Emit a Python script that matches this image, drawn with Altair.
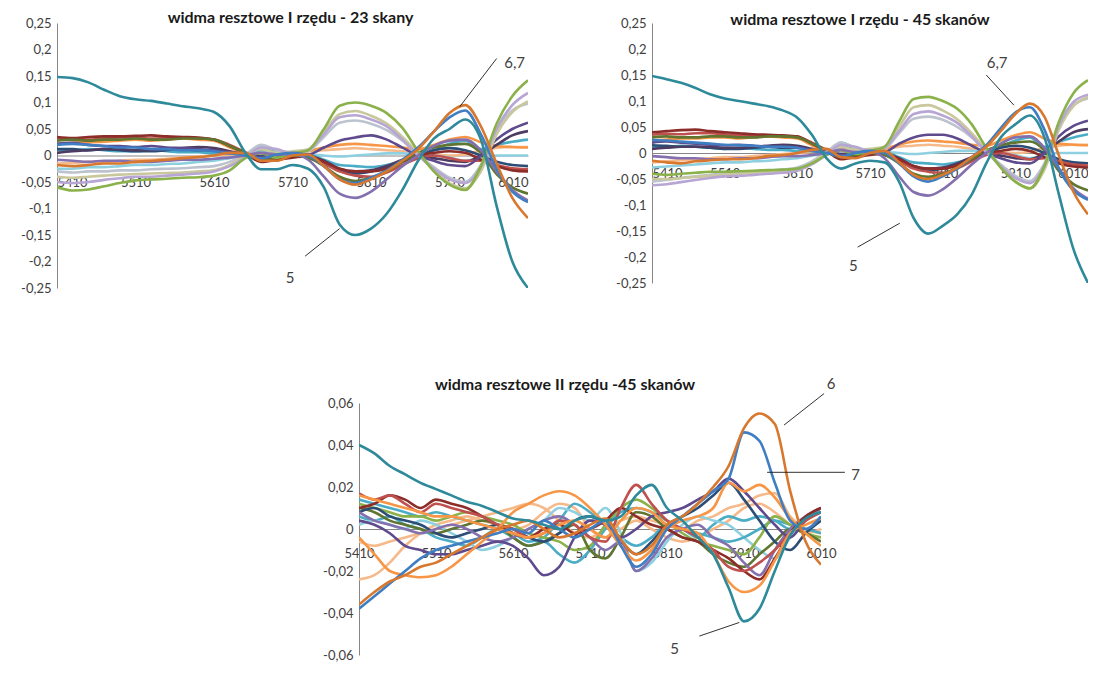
import altair as alt
import pandas as pd

# wavenumber grid (x values of every series)
X = [5410, 5430, 5450, 5470, 5490, 5510, 5530, 5550, 5570, 5590, 5610,
     5630, 5650, 5670, 5690, 5710, 5730, 5750,
     5770, 5790, 5810, 5830, 5850, 5870,
     5890, 5910, 5930, 5950, 5970, 5990, 6010]
X_TICKS = [5410, 5510, 5610, 5710, 5810, 5910, 6010]
Y_TICKS_1 = [-0.25, -0.2, -0.15, -0.1, -0.05, 0, 0.05, 0.1, 0.15, 0.2, 0.25]
Y_TICKS_3 = [-0.06, -0.04, -0.02, 0, 0.02, 0.04, 0.06]

TITLE_1 = "widma resztowe I rzędu - 23 skany"
TITLE_2 = "widma resztowe I rzędu - 45 skanów"
TITLE_3 = "widma resztowe II rzędu -45 skanów"

# ---------------- panel 1 : I order residuals, 23 scans ----------------
p1_peach = [-0.015,-0.014,-0.012,-0.012,-0.010,-0.008,-0.008,-0.006,-0.004,-0.002,0.000, 0.002,0.004,0.010,0.008,0.006,0.008,0.010, 0.012,0.014,0.012,0.010,0.008,0.005, 0.002,0.000,0.002,0.010,0.014,0.016,0.016]
p1_laqua = [-0.025,-0.025,-0.022,-0.022,-0.020,-0.018,-0.018,-0.016,-0.015,-0.012,-0.010, -0.005,0.000,0.018,0.010,0.005,0.002,0.000, -0.002,0.000,0.002,0.004,0.004,0.002, 0.000,-0.004,-0.010,-0.004,0.000,0.000,0.000]
p1_aqua = [0.010,0.010,0.012,0.010,0.008,0.008,0.010,0.008,0.006,0.006,0.004, 0.004,0.002,0.010,0.008,0.004,0.002,-0.008, -0.018,-0.020,-0.022,-0.018,-0.010,0.000, 0.010,0.022,0.028,0.012,0.020,0.026,0.030]
p1_orange = [0.022,0.024,0.025,0.026,0.028,0.030,0.028,0.030,0.032,0.030,0.028, 0.015,0.005,-0.005,0.000,0.002,0.008,0.015, 0.020,0.022,0.020,0.018,0.015,0.012, 0.020,0.030,0.035,0.025,0.018,0.016,0.015]
p1_dblue = [0.012,0.012,0.010,0.012,0.010,0.008,0.008,0.010,0.012,0.010,0.010, 0.006,0.002,-0.002,0.000,0.000,-0.004,-0.015, -0.028,-0.034,-0.030,-0.022,-0.010,0.000, 0.010,0.014,0.010,0.000,-0.012,-0.018,-0.020]
p1_indigo = [0.005,0.008,0.010,0.012,0.012,0.010,0.010,0.012,0.014,0.016,0.014, 0.008,0.002,-0.002,0.000,0.002,0.000,-0.010, -0.025,-0.030,-0.028,-0.020,-0.008,0.000, -0.005,-0.010,-0.012,0.000,0.020,0.038,0.046]
p1_red = [0.030,0.032,0.030,0.032,0.034,0.034,0.032,0.033,0.034,0.032,0.030, 0.020,0.006,-0.010,-0.005,0.000,-0.002,-0.015, -0.030,-0.038,-0.040,-0.032,-0.018,-0.005, 0.000,-0.005,-0.010,-0.010,-0.018,-0.024,-0.026]
p1_dred = [0.035,0.033,0.035,0.036,0.036,0.037,0.038,0.036,0.035,0.034,0.030, 0.018,0.004,-0.012,-0.008,-0.004,-0.002,-0.012, -0.025,-0.030,-0.030,-0.025,-0.012,0.000, 0.005,0.008,0.005,-0.008,-0.020,-0.028,-0.030]
p1_olive = [0.028,0.030,0.028,0.030,0.030,0.032,0.030,0.030,0.032,0.032,0.030, 0.018,0.005,-0.008,-0.004,0.000,-0.004,-0.020, -0.040,-0.048,-0.042,-0.030,-0.012,0.005, 0.015,0.020,0.022,0.005,-0.035,-0.060,-0.072]
p1_dpurple = [0.022,0.024,0.020,0.018,0.018,0.016,0.018,0.015,0.014,0.012,0.010, 0.006,0.002,-0.004,0.000,0.004,0.002,0.015, 0.028,0.034,0.038,0.030,0.015,0.000, -0.010,-0.018,-0.020,0.000,0.030,0.050,0.062]
p1_gray = [-0.030,-0.032,-0.030,-0.030,-0.028,-0.028,-0.026,-0.025,-0.024,-0.022,-0.020, -0.012,0.002,0.020,0.010,0.004,0.008,0.035, 0.062,0.066,0.060,0.048,0.028,0.002, -0.022,-0.042,-0.050,-0.018,0.045,0.085,0.098]
p1_khaki = [-0.040,-0.042,-0.040,-0.038,-0.036,-0.035,-0.034,-0.033,-0.032,-0.030,-0.028, -0.018,0.000,0.012,0.005,0.008,0.012,0.045, 0.078,0.084,0.075,0.060,0.035,0.004, -0.028,-0.052,-0.062,-0.030,0.040,0.082,0.102]
p1_lav = [-0.050,-0.052,-0.050,-0.046,-0.043,-0.040,-0.040,-0.038,-0.036,-0.034,-0.030, -0.020,-0.004,0.015,0.012,0.004,0.010,0.040, 0.072,0.076,0.068,0.055,0.030,0.000, -0.025,-0.045,-0.052,-0.022,0.050,0.095,0.118]
p1_green = [-0.060,-0.066,-0.064,-0.058,-0.052,-0.047,-0.045,-0.044,-0.042,-0.041,-0.038, -0.028,-0.005,0.004,-0.004,0.004,0.010,0.050, 0.094,0.100,0.094,0.080,0.052,0.008, -0.030,-0.055,-0.065,-0.020,0.060,0.112,0.142]
p1_purple = [-0.008,-0.010,-0.012,-0.010,-0.010,-0.012,-0.012,-0.010,-0.008,-0.008,-0.006, -0.004,0.000,0.005,0.002,0.002,-0.008,-0.040, -0.072,-0.080,-0.068,-0.045,-0.020,0.000, 0.018,0.028,0.030,0.010,-0.030,-0.065,-0.085]
p1_blue7 = [0.020,0.022,0.020,0.018,0.015,0.015,0.012,0.012,0.010,0.010,0.008, 0.004,0.000,-0.005,0.002,0.005,0.000,-0.020, -0.045,-0.052,-0.042,-0.028,-0.008,0.015, 0.045,0.072,0.085,0.040,-0.025,-0.068,-0.088]
p1_orange6 = [-0.018,-0.020,-0.018,-0.015,-0.015,-0.012,-0.010,-0.008,-0.005,-0.003,0.000, 0.005,0.005,-0.010,-0.010,0.000,0.002,-0.020, -0.045,-0.055,-0.045,-0.030,-0.010,0.012, 0.045,0.080,0.095,0.055,-0.015,-0.080,-0.118]
p1_teal5 = [0.148,0.146,0.138,0.124,0.112,0.106,0.103,0.098,0.093,0.089,0.082, 0.055,0.005,-0.026,-0.026,-0.018,-0.025,-0.060, -0.130,-0.150,-0.138,-0.110,-0.065,-0.010, 0.032,0.050,0.068,0.030,-0.095,-0.200,-0.250]

# ---------------- panel 2 : I order residuals, 45 scans ----------------
p2_peach = [-0.018,-0.016,-0.014,-0.012,-0.010,-0.008,-0.008,-0.006,-0.004,-0.002,0.000, 0.002,0.004,0.010,0.008,0.006,0.008,0.012, 0.014,0.016,0.014,0.012,0.008,0.005, 0.002,0.000,0.002,0.010,0.014,0.016,0.016]
p2_laqua = [-0.028,-0.026,-0.024,-0.022,-0.020,-0.018,-0.018,-0.016,-0.015,-0.012,-0.010, -0.005,0.000,0.020,0.010,0.005,0.002,0.000, -0.002,0.000,0.002,0.004,0.004,0.002, 0.000,-0.004,-0.010,-0.004,0.000,0.000,0.000]
p2_aqua = [0.012,0.012,0.014,0.012,0.010,0.008,0.010,0.008,0.006,0.006,0.004, 0.004,0.002,0.012,0.008,0.004,0.002,-0.008, -0.018,-0.020,-0.022,-0.018,-0.010,0.000, 0.012,0.024,0.030,0.012,0.022,0.030,0.036]
p2_orange = [0.025,0.026,0.028,0.028,0.030,0.030,0.028,0.030,0.032,0.030,0.028, 0.015,0.005,-0.004,0.000,0.002,0.008,0.016, 0.022,0.024,0.022,0.020,0.016,0.014, 0.024,0.034,0.040,0.028,0.018,0.016,0.015]
p2_dblue = [0.015,0.014,0.012,0.012,0.010,0.008,0.008,0.010,0.012,0.010,0.010, 0.006,0.002,-0.002,0.000,0.000,-0.004,-0.015, -0.028,-0.034,-0.030,-0.022,-0.010,0.000, 0.010,0.014,0.010,0.000,-0.012,-0.018,-0.020]
p2_indigo = [0.008,0.010,0.012,0.012,0.012,0.010,0.010,0.012,0.014,0.016,0.014, 0.008,0.002,-0.002,0.000,0.002,0.000,-0.010, -0.025,-0.030,-0.028,-0.020,-0.008,0.000, -0.005,-0.010,-0.012,0.000,0.022,0.040,0.046]
p2_red = [0.035,0.037,0.036,0.038,0.038,0.036,0.034,0.034,0.034,0.032,0.030, 0.020,0.006,-0.010,-0.005,0.000,-0.002,-0.015, -0.030,-0.036,-0.038,-0.030,-0.016,-0.004, 0.000,-0.006,-0.012,-0.010,-0.016,-0.022,-0.024]
p2_dred = [0.040,0.042,0.044,0.045,0.042,0.040,0.038,0.036,0.035,0.034,0.032, 0.018,0.004,-0.012,-0.008,-0.004,-0.002,-0.012, -0.025,-0.030,-0.030,-0.024,-0.012,0.000, 0.004,0.008,0.004,-0.008,-0.020,-0.026,-0.028]
p2_olive = [0.030,0.032,0.030,0.030,0.032,0.032,0.030,0.030,0.032,0.032,0.030, 0.018,0.005,-0.008,-0.004,0.000,-0.004,-0.020, -0.040,-0.046,-0.040,-0.028,-0.012,0.005, 0.015,0.020,0.022,0.005,-0.035,-0.060,-0.072]
p2_dpurple = [0.020,0.022,0.020,0.018,0.016,0.015,0.016,0.014,0.012,0.012,0.010, 0.006,0.002,-0.004,0.000,0.004,0.002,0.018, 0.030,0.035,0.035,0.028,0.014,0.000, -0.010,-0.018,-0.020,0.000,0.032,0.052,0.062]
p2_gray = [-0.055,-0.052,-0.048,-0.045,-0.042,-0.040,-0.038,-0.036,-0.034,-0.032,-0.028, -0.016,0.002,0.020,0.010,0.004,0.008,0.038, 0.066,0.070,0.064,0.050,0.030,0.002, -0.022,-0.044,-0.054,-0.020,0.048,0.092,0.105]
p2_khaki = [-0.050,-0.050,-0.048,-0.046,-0.044,-0.042,-0.040,-0.038,-0.037,-0.035,-0.032, -0.020,0.000,0.012,0.006,0.008,0.012,0.050, 0.088,0.092,0.082,0.065,0.038,0.005, -0.028,-0.055,-0.068,-0.032,0.045,0.090,0.108]
p2_lav = [-0.062,-0.060,-0.056,-0.052,-0.048,-0.045,-0.044,-0.042,-0.040,-0.038,-0.034, -0.022,-0.004,0.016,0.012,0.004,0.010,0.042, 0.075,0.080,0.072,0.058,0.032,0.002, -0.025,-0.048,-0.058,-0.025,0.052,0.098,0.112]
p2_green = [-0.040,-0.042,-0.040,-0.038,-0.036,-0.036,-0.035,-0.034,-0.033,-0.032,-0.030, -0.020,-0.004,0.005,-0.002,0.004,0.012,0.060, 0.104,0.108,0.100,0.085,0.055,0.010, -0.028,-0.055,-0.068,-0.025,0.060,0.115,0.140]
p2_purple = [-0.006,-0.008,-0.010,-0.010,-0.012,-0.012,-0.010,-0.010,-0.008,-0.006,-0.006, -0.004,0.000,0.006,0.002,0.002,-0.010,-0.045, -0.075,-0.082,-0.070,-0.048,-0.022,0.000, 0.018,0.030,0.032,0.010,-0.030,-0.068,-0.088]
p2_blue7 = [0.025,0.024,0.022,0.020,0.018,0.016,0.015,0.014,0.012,0.012,0.010, 0.004,0.000,-0.006,0.000,0.004,0.000,-0.020, -0.045,-0.055,-0.045,-0.030,-0.008,0.015, 0.048,0.078,0.088,0.045,-0.030,-0.072,-0.090]
p2_orange6 = [-0.015,-0.018,-0.020,-0.016,-0.014,-0.012,-0.012,-0.010,-0.006,-0.004,0.000, 0.006,0.008,-0.008,-0.010,0.000,0.004,-0.018, -0.042,-0.050,-0.042,-0.028,-0.008,0.012, 0.042,0.075,0.095,0.070,-0.005,-0.075,-0.118]
p2_teal5 = [0.148,0.142,0.135,0.125,0.113,0.105,0.100,0.095,0.090,0.082,0.068, 0.035,-0.010,-0.030,-0.020,-0.015,-0.018,-0.055, -0.125,-0.155,-0.140,-0.118,-0.080,-0.020, 0.030,0.055,0.072,0.030,-0.080,-0.185,-0.250]

# ---------------- panel 3 : II order residuals, 45 scans ----------------
p3_peach = [-0.006,-0.008,-0.006,-0.004,-0.002,0.000,0.002,0.004,0.006,0.008,0.010, 0.012,0.010,0.004,-0.002,-0.004,0.000,0.004, 0.006,0.004,0.002,0.000,0.004,0.006, 0.010,0.012,0.016,0.017,0.006,0.000,-0.002]
p3_lblue = [-0.024,-0.022,-0.016,-0.008,-0.002,0.002,0.004,0.006,0.004,0.002,0.000, 0.002,0.008,0.012,0.010,0.000,-0.004,0.000, 0.004,0.000,-0.004,-0.006,-0.004,0.000, 0.004,0.010,0.012,0.008,0.002,-0.002,0.000]
p3_aqua = [0.006,0.004,0.006,0.002,0.000,-0.004,-0.006,-0.008,-0.004,0.000,-0.002, -0.006,-0.004,0.004,0.012,0.008,0.002,-0.004, -0.008,-0.004,0.002,0.000,-0.004,0.002, 0.006,0.004,0.006,0.004,0.000,0.004,0.010]
p3_blue = [0.002,0.004,0.002,0.000,0.004,0.002,-0.002,-0.006,-0.010,-0.008,-0.004, 0.000,0.004,0.010,0.008,0.004,0.010,-0.002, -0.020,-0.016,-0.006,0.002,0.006,0.004, 0.002,-0.004,-0.010,-0.014,-0.004,0.004,0.008]
p3_lgreen = [0.014,0.012,0.010,0.008,0.006,0.008,0.006,0.004,0.002,0.000,-0.004, -0.008,-0.006,-0.012,-0.016,-0.010,0.000,0.008, 0.010,0.008,0.004,0.000,-0.002,-0.004, -0.006,-0.004,0.000,0.004,0.002,0.000,-0.002]
p3_green = [0.012,0.010,0.008,0.006,0.006,0.004,0.006,0.008,0.006,0.004,0.002, -0.002,-0.004,-0.006,-0.010,-0.008,0.002,0.010, 0.014,0.010,0.004,-0.002,-0.006,-0.008, -0.010,-0.012,-0.004,0.006,0.002,-0.002,-0.004]
p3_olive = [0.010,0.008,0.004,0.002,0.000,-0.002,0.000,0.002,0.004,0.002,-0.004, -0.008,-0.006,-0.002,0.002,-0.010,-0.014,-0.004, 0.008,0.006,0.000,-0.004,-0.006,-0.012, -0.016,-0.018,-0.012,-0.006,0.000,-0.002,-0.006]
p3_dblue = [0.008,0.010,0.006,0.004,0.002,-0.002,-0.004,-0.002,0.000,0.002,0.000, -0.004,-0.006,-0.002,0.004,0.006,0.002,-0.006, -0.012,-0.006,0.002,0.006,0.010,0.016, 0.022,0.014,0.004,-0.006,-0.010,-0.002,0.004]
p3_purple = [0.008,0.004,0.002,0.000,-0.002,0.000,0.002,0.000,-0.004,-0.006,-0.004, 0.000,0.004,0.006,0.002,-0.004,-0.010,-0.006, -0.020,-0.014,-0.004,0.000,0.002,-0.004, -0.008,-0.016,-0.022,-0.010,0.000,0.006,0.010]
p3_dpurple = [0.004,0.002,-0.002,-0.008,-0.010,-0.012,-0.012,-0.010,-0.008,-0.006,-0.008, -0.014,-0.022,-0.018,-0.004,0.004,0.002,-0.004, 0.000,0.006,0.008,0.010,0.014,0.018, 0.024,0.018,0.010,0.002,-0.004,0.004,0.008]
p3_dred = [0.010,0.012,0.016,0.014,0.010,0.014,0.012,0.010,0.006,0.002,-0.002, -0.004,0.000,0.002,-0.002,0.000,0.004,0.010, 0.006,0.002,0.000,-0.004,-0.006,-0.010, -0.014,-0.020,-0.024,-0.014,-0.002,0.006,0.010]
p3_red = [0.017,0.014,0.016,0.012,0.008,0.012,0.010,0.008,0.006,0.002,0.000, -0.004,-0.002,0.004,0.002,-0.004,-0.006,0.010, 0.021,0.012,0.004,0.000,-0.004,-0.010, -0.018,-0.020,-0.016,-0.010,-0.002,0.004,0.008]
p3_mauve = [0.016,0.014,0.012,0.010,0.008,0.006,0.006,0.004,0.002,0.000,-0.002, -0.004,-0.002,0.002,0.004,0.000,-0.004,0.004, 0.010,0.008,0.002,0.000,-0.002,-0.012, -0.025,-0.030,-0.027,-0.015,-0.002,0.002,0.005]
p3_orange = [-0.004,-0.012,-0.020,-0.022,-0.023,-0.022,-0.018,-0.012,-0.006,0.000,0.008, 0.012,0.016,0.018,0.016,0.010,0.002,-0.008, -0.015,-0.010,0.000,0.004,0.006,0.010, 0.022,0.018,0.021,0.015,0.005,-0.002,-0.008]
p3_blue7 = [-0.038,-0.032,-0.026,-0.020,-0.014,-0.010,-0.008,-0.006,-0.004,-0.002,0.000, -0.002,0.004,0.000,-0.004,0.000,0.004,-0.008, -0.018,-0.012,0.000,0.006,0.012,0.018, 0.024,0.046,0.042,0.022,0.004,0.000,0.006]
p3_orange6 = [-0.036,-0.030,-0.025,-0.022,-0.018,-0.016,-0.012,-0.008,-0.004,0.000,0.002, 0.004,0.000,-0.004,-0.002,0.002,0.005,-0.005, -0.012,-0.008,0.002,0.006,0.012,0.020, 0.030,0.048,0.055,0.050,0.018,-0.006,-0.017]
p3_teal5 = [0.040,0.036,0.030,0.026,0.022,0.019,0.016,0.013,0.011,0.008,0.005, 0.004,0.002,0.000,0.004,0.006,0.004,0.006, 0.016,0.021,0.010,0.004,-0.004,-0.012, -0.028,-0.044,-0.038,-0.020,-0.003,0.005,0.008]

NAMES_1 = ["peach", "laqua", "aqua", "orange", "dblue", "indigo", "red", "dred", "olive",
           "dpurple", "gray", "khaki", "lav", "green", "purple", "blue7", "orange6", "teal5"]
COLORS_1 = ["#F6B98A", "#8FD0E0", "#4BACC6", "#F79646", "#2C4D75", "#4D3B62", "#C0504D", "#8C2D2A",
            "#5F7530", "#5E4A8C", "#BCC3CF", "#C9C79C", "#B7A6D3", "#8AB14A", "#8470AE", "#3F7EC2",
            "#D8782F", "#2E8A9A"]
SERIES_1 = [p1_peach, p1_laqua, p1_aqua, p1_orange, p1_dblue, p1_indigo, p1_red, p1_dred, p1_olive,
            p1_dpurple, p1_gray, p1_khaki, p1_lav, p1_green, p1_purple, p1_blue7, p1_orange6, p1_teal5]
SERIES_2 = [p2_peach, p2_laqua, p2_aqua, p2_orange, p2_dblue, p2_indigo, p2_red, p2_dred, p2_olive,
            p2_dpurple, p2_gray, p2_khaki, p2_lav, p2_green, p2_purple, p2_blue7, p2_orange6, p2_teal5]
NAMES_3 = ["peach", "lblue", "aqua", "blue", "lgreen", "green", "olive", "dblue", "purple",
           "dpurple", "dred", "red", "mauve", "orange", "blue7", "orange6", "teal5"]
COLORS_3 = ["#F6B98A", "#B3C6E0", "#4BACC6", "#5B8FD0", "#C3D69B", "#9BBB59", "#5F7530", "#2C4D75",
            "#8470AE", "#5E4A8C", "#8C2D2A", "#C0504D", "#C98A93", "#F79646", "#3F7EC2", "#D8782F",
            "#2E8A9A"]
SERIES_3 = [p3_peach, p3_lblue, p3_aqua, p3_blue, p3_lgreen, p3_green, p3_olive, p3_dblue, p3_purple,
            p3_dpurple, p3_dred, p3_red, p3_mauve, p3_orange, p3_blue7, p3_orange6, p3_teal5]

# annotation labels and leader lines (data coordinates)
ann1_text = ["6,7", "5"]
ann1_tx = [5993, 5707]
ann1_ty = [0.175, -0.232]
ann1_lx = [5970, 5726]
ann1_ly = [0.183, -0.190]
ann1_lx2 = [5923, 5770]
ann1_ly2 = [0.092, -0.138]

ann2_text = ["6,7", "5"]
ann2_tx = [5885, 5687]
ann2_ty = [0.173, -0.218]
ann2_lx = [5870, 5693]
ann2_ly = [0.150, -0.181]
ann2_lx2 = [5908, 5751]
ann2_ly2 = [0.092, -0.135]

ann3_text = ["6", "7", "5"]
ann3_tx = [6023, 6055, 5820]
ann3_ty = [0.069, 0.0255, -0.057]
ann3_lx = [6014, 5940, 5852]
ann3_ly = [0.0645, 0.027, -0.051]
ann3_lx2 = [5962, 6041, 5904]
ann3_ly2 = [0.0495, 0.027, -0.0445]

FONT = "Lato"


def long_df(names, series):
    rows = []
    for n, vals in zip(names, series):
        assert len(vals) == len(X), (n, len(vals))
        for x, v in zip(X, vals):
            rows.append({"s": n, "x": x, "v": v})
    return pd.DataFrame(rows)


def panel(names, series, colors, ylim, yticks, W, H, title, dx, toff, xpad, flush,
          t_txt, t_x, t_y, l_x, l_y, l_x2, l_y2):
    df = long_df(names, series)
    xs = alt.Scale(domain=[5410, 6010], nice=False, zero=False)
    ys = alt.Scale(domain=[-ylim, ylim], nice=False, zero=False)
    xax = alt.Axis(values=X_TICKS, format="d", title=None, ticks=False, grid=False,
                   offset=-H / 2, labelPadding=xpad, labelFlush=flush,
                   domainColor="#868686", labelColor="#404040", labelFontSize=13, labelFont=FONT)
    yax = alt.Axis(values=yticks, labelExpr="replace(toString(datum.value), '.', ',')",
                   title=None, ticks=False, grid=False, labelPadding=6,
                   domainColor="#868686", labelColor="#404040", labelFontSize=13, labelFont=FONT)
    lines = alt.Chart(df).mark_line(strokeWidth=2.6, interpolate="monotone", clip=True).encode(
        x=alt.X("x:Q", scale=xs, axis=xax),
        y=alt.Y("v:Q", scale=ys, axis=yax),
        color=alt.Color("s:N", scale=alt.Scale(domain=names, range=colors), legend=None),
        detail="s:N",
    )
    lab = pd.DataFrame({"t": t_txt, "x": t_x, "v": t_y})
    lead = pd.DataFrame({"x": l_x, "v": l_y, "x2": l_x2, "v2": l_y2})
    rules = alt.Chart(lead).mark_rule(color="#1a1a1a", strokeWidth=0.9).encode(
        x=alt.X("x:Q", scale=xs, axis=xax), y=alt.Y("v:Q", scale=ys, axis=yax),
        x2="x2:Q", y2="v2:Q")
    texts = alt.Chart(lab).mark_text(font=FONT, fontSize=15, color="#404040").encode(
        x=alt.X("x:Q", scale=xs, axis=xax), y=alt.Y("v:Q", scale=ys, axis=yax), text="t:N")
    return alt.layer(lines, rules, texts).properties(
        width=W, height=H,
        title=alt.TitleParams(text=title, font=FONT, fontSize=16, fontWeight="bold",
                              color="#1a1a1a", offset=toff, dx=dx, anchor="middle",
                              frame="group"))


p1 = panel(NAMES_1, SERIES_1, COLORS_1, 0.25, Y_TICKS_1, 471, 265, TITLE_1, -2, -9, 21, True,
           ann1_text, ann1_tx, ann1_ty, ann1_lx, ann1_ly, ann1_lx2, ann1_ly2)
p2 = panel(NAMES_1, SERIES_2, COLORS_1, 0.25, Y_TICKS_1, 436, 260, TITLE_2, -10, -11, 14, True,
           ann2_text, ann2_tx, ann2_ty, ann2_lx, ann2_ly, ann2_lx2, ann2_ly2)
p3 = panel(NAMES_3, SERIES_3, COLORS_3, 0.06, Y_TICKS_3, 462, 252, TITLE_3, -25, -16, 18, False,
           ann3_text, ann3_tx, ann3_ty, ann3_lx, ann3_ly, ann3_lx2, ann3_ly2)

spacer = alt.Chart(pd.DataFrame({"v": [0]})).mark_point(opacity=0, size=1).encode(
    x=alt.X("v:Q", axis=None), y=alt.Y("v:Q", axis=None)).properties(width=178, height=10)

row1 = alt.hconcat(p1, p2, spacing=124, bounds="flush")
row2 = alt.hconcat(spacer, p3, spacing=124, bounds="flush")
chart = alt.vconcat(row1, row2, spacing=82).properties(
    padding={"left": 12, "top": 2, "right": 0, "bottom": 0}
).configure_view(stroke=None)

chart.save("out.html", embed_options={"renderer": "svg", "actions": False})
